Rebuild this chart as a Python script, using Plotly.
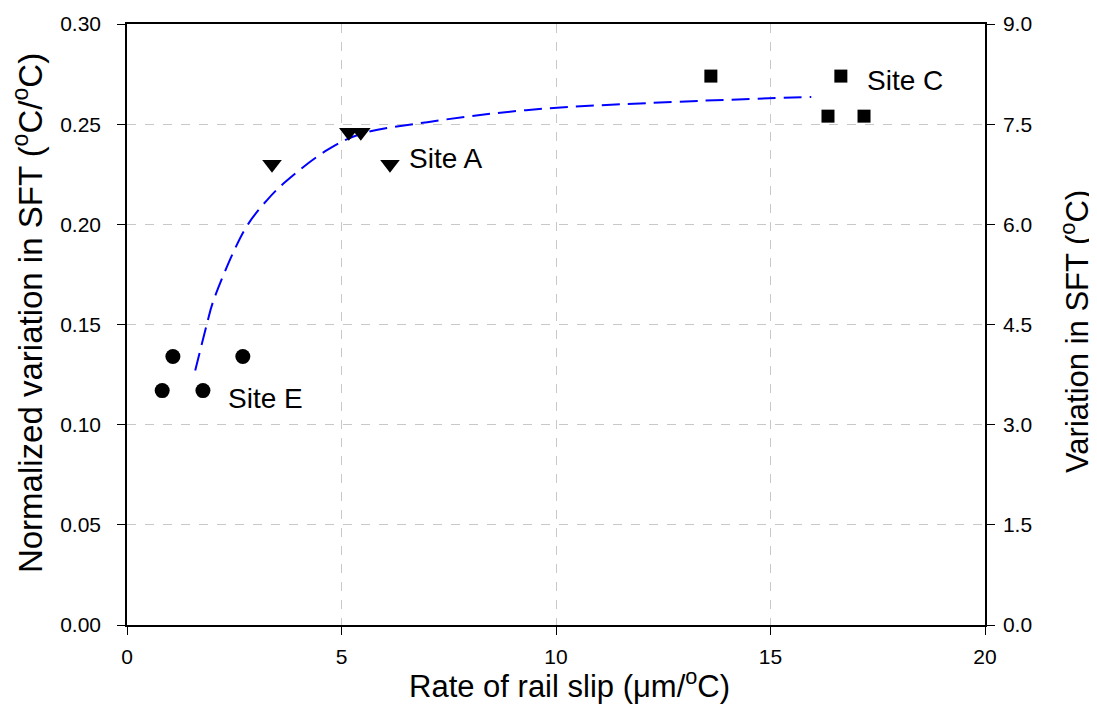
import plotly.graph_objects as go

# Site E (circles)
site_e_x = [0.82, 1.07, 1.77, 2.70]
site_e_y = [0.117, 0.134, 0.117, 0.134]
# Site A (triangles down)
site_a_x = [3.38, 5.17, 5.45, 6.13]
site_a_y = [0.230, 0.246, 0.246, 0.230]
# Site C (squares)
site_c_x = [13.61, 16.64, 16.34, 17.18]
site_c_y = [0.274, 0.274, 0.254, 0.254]
# Fitted curve
fit_x = [1.59, 1.86, 2.00, 2.52, 2.82, 3.26, 3.68, 4.66, 5.43, 7.0, 9.3, 12.2, 15.95]
fit_y = [0.127, 0.150, 0.161, 0.188, 0.200, 0.212, 0.221, 0.237, 0.245, 0.251, 0.257, 0.2606, 0.2636]

labels = ["Site A", "Site E", "Site C"]
label_x = [6.52, 2.3, 17.2]
label_y = [0.233, 0.113, 0.272]

x_title = "Rate of rail slip (μm/<sup>o</sup>C)"
y_title = "Normalized variation in SFT (<sup>o</sup>C/<sup>o</sup>C)"
y2_title = "Variation in SFT (<sup>o</sup>C)"

FONT = "Liberation Sans, Arial, sans-serif"
TICK = 21

fig = go.Figure()
fig.add_trace(go.Scatter(x=fit_x, y=fit_y, mode="lines",
                         line=dict(color="#0000ff", width=2, dash="18px,8px", shape="spline"),
                         showlegend=False))
fig.add_trace(go.Scatter(x=site_e_x, y=site_e_y, mode="markers",
                         marker=dict(symbol="circle", size=15, color="black"), showlegend=False))
fig.add_trace(go.Scatter(x=site_a_x, y=site_a_y, mode="markers",
                         marker=dict(symbol="triangle-down", size=17, color="black"), showlegend=False))
fig.add_trace(go.Scatter(x=site_c_x, y=site_c_y, mode="markers",
                         marker=dict(symbol="square", size=13, color="black"), showlegend=False))
fig.add_trace(go.Scatter(x=[0], y=[0], yaxis="y2", mode="markers", marker=dict(opacity=0),
                         showlegend=False, hoverinfo="skip"))

for t, x, y in zip(labels, label_x, label_y):
    fig.add_annotation(x=x, y=y, text=t, showarrow=False, xanchor="left", yanchor="middle",
                       font=dict(family=FONT, size=28, color="black"))

# axis titles
fig.add_annotation(xref="paper", yref="paper", x=0.516, y=0, yshift=-59, text=x_title,
                   showarrow=False, xanchor="center", yanchor="middle",
                   font=dict(family=FONT, size=31, color="black"))
fig.add_annotation(xref="paper", yref="paper", x=0, xshift=-99, y=0.519, text=y_title,
                   textangle=-90, showarrow=False, xanchor="center", yanchor="middle",
                   font=dict(family=FONT, size=33, color="black"))
fig.add_annotation(xref="paper", yref="paper", x=1, xshift=90, y=0.4875, text=y2_title,
                   textangle=-90, showarrow=False, xanchor="center", yanchor="middle",
                   font=dict(family=FONT, size=31, color="black"))

fig.update_layout(
    width=1097, height=725,
    margin=dict(l=119, r=120, t=16, b=108),
    paper_bgcolor="white", plot_bgcolor="white",
    font=dict(family=FONT, size=TICK, color="black"),
    xaxis=dict(range=[0, 20], dtick=5, tick0=0, showline=True, linecolor="black", linewidth=1.5,
               mirror=True, ticks="outside", ticklen=8, tickcolor="black",
               tickfont=dict(family=FONT, size=TICK), ticklabelstandoff=4,
               showgrid=True, gridcolor="#c8c8c8", griddash="dash", gridwidth=1, zeroline=False,
               automargin=False),
    yaxis=dict(range=[0, 0.30], dtick=0.05, tickformat=".2f", showline=True, linecolor="black",
               linewidth=1.5, ticks="outside", ticklen=8, tickcolor="black",
               tickfont=dict(family=FONT, size=TICK), ticklabelstandoff=12,
               showgrid=True, gridcolor="#c8c8c8", griddash="dash", gridwidth=1, zeroline=False,
               automargin=False),
    yaxis2=dict(range=[0, 9], dtick=1.5, tickformat=".1f", overlaying="y", side="right",
                showline=True, linecolor="black", linewidth=1.5, ticks="outside", ticklen=8,
                tickcolor="black", tickfont=dict(family=FONT, size=TICK), ticklabelstandoff=4,
                showgrid=False, zeroline=False, automargin=False),
)

fig.write_html("out.html")
